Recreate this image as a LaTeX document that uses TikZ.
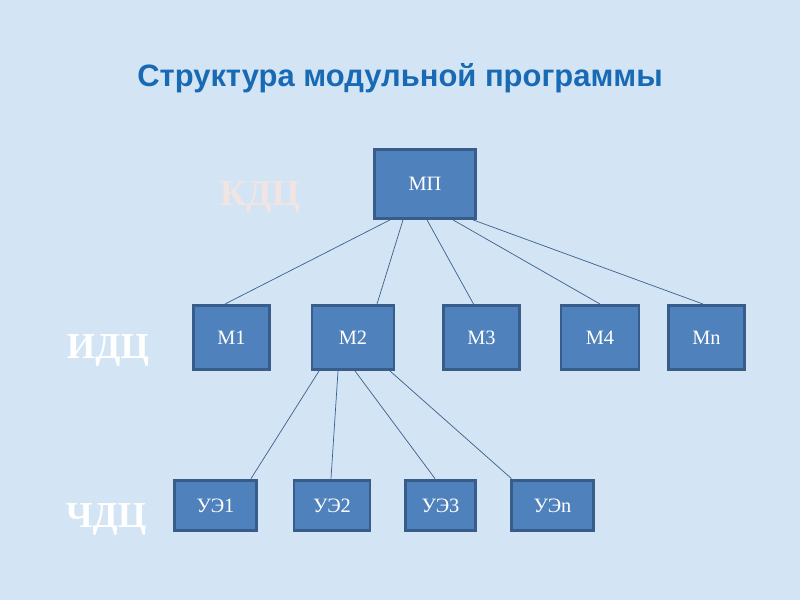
\documentclass[tikz,border=0pt]{standalone}
\usepackage{fontspec}
\setmainfont{Liberation Serif}
\newfontfamily\titlefont{Liberation Sans}
\usetikzlibrary{positioning}

\definecolor{slidebg}{RGB}{211,228,244}
\definecolor{boxfill}{RGB}{79,129,189}
\definecolor{boxline}{RGB}{56,93,138}
\definecolor{wireblue}{RGB}{58,96,140}
\definecolor{titleblue}{RGB}{24,106,180}
\definecolor{palelabel}{RGB}{241,228,226}

\tikzset{
    modbox/.style={draw=boxline, fill=boxfill, line width=2.1pt, text=white,
        font=\fontsize{14.5}{17}\selectfont, inner sep=0pt},
    wire/.style={draw=wireblue, line width=0.5pt},
    levellabel/.style={font=\fontsize{26}{30}\selectfont\bfseries, anchor=base}
}

\begin{document}
\begin{tikzpicture}[x=0.025cm, y=-0.025cm]
    % Slide background
    \fill [slidebg] (0,0) rectangle (800,600);
    \useasboundingbox (0,0) rectangle (800,600);

    % Title
    \node [text=titleblue, font=\titlefont\fontsize{22}{26}\selectfont\bfseries] (title) at (400,78) {Структура модульной программы};

    % Level labels
    \node [levellabel, text=palelabel] (kdc) at (260,205) {КДЦ};
    \node [levellabel, text=white] (idc) at (108,358) {ИДЦ};
    \node [levellabel, text=white] (chdc) at (106,527) {ЧДЦ};

    % Main program
    \node [modbox, minimum width=2.52cm, minimum height=1.72cm] (mp) at (425,184) {МП};

    % Modules
    \node [modbox, minimum width=1.92cm, minimum height=1.6cm] (m1) at (231.5,337.5) {М1};
    \node [modbox, minimum width=2.05cm, minimum height=1.6cm] (m2) at (353,337.5) {М2};
    \node [modbox, minimum width=1.92cm, minimum height=1.6cm] (m3) at (481.5,337.5) {М3};
    \node [modbox, minimum width=1.95cm, minimum height=1.6cm] (m4) at (600,337.5) {М4};
    \node [modbox, minimum width=1.92cm, minimum height=1.6cm] (mn) at (706.5,337.5) {Мn};

    % Learning elements
    \node [modbox, minimum width=2.05cm, minimum height=1.27cm] (ue1) at (215.5,505.5) {УЭ1};
    \node [modbox, minimum width=1.9cm, minimum height=1.27cm] (ue2) at (332,505.5) {УЭ2};
    \node [modbox, minimum width=1.77cm, minimum height=1.27cm] (ue3) at (440.5,505.5) {УЭ3};
    \node [modbox, minimum width=2.07cm, minimum height=1.27cm] (uen) at (552.5,505.5) {УЭn};

    % Links from main program to modules
    \foreach \m/\a/\b in {m1/-35/-6.5, m2/-22/24, m3/2/-8, m4/28/0, mn/48/-3.5} {
        \draw [wire] ([xshift=\a*0.025cm]mp.south) -- ([xshift=\b*0.025cm]\m.north);
    }

    % Links from module 2 to learning elements
    \foreach \u/\a/\b in {ue1/-34/35.5, ue2/-15/-1, ue3/2/-5.5, uen/37/-41} {
        \draw [wire] ([xshift=\a*0.025cm]m2.south) -- ([xshift=\b*0.025cm]\u.north);
    }
\end{tikzpicture}
\end{document}
